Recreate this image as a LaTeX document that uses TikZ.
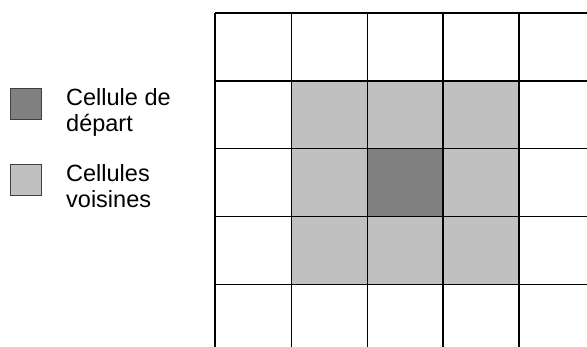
\documentclass[tikz,border=0pt]{standalone}
\usepackage{fontspec}
\setmainfont{Liberation Sans}
\definecolor{darkcell}{RGB}{128,128,128}
\definecolor{lightcell}{RGB}{192,192,192}
\begin{document}
\begin{tikzpicture}[x=1pt,y=-1pt,
  gridline/.style={black,line width=1.6pt},
  legendbox/.style={draw=black!75,line width=0.9pt},
  legendtext/.style={anchor=base west,inner sep=0pt,align=left,
     font=\fontsize{23.5}{25.7}\selectfont}]
\useasboundingbox (0,0) rectangle (587,347);
% shaded cells
\fill[lightcell] (291.5,81) rectangle (519,284.5);
\fill[darkcell] (367.5,148.5) rectangle (443,216.5);
% grid lines
\foreach \x in {215,291.5,367.5,443,519}
  \draw[gridline] (\x,13) -- (\x,347);
\foreach \y in {13,81,148.5,216.5,284.5}
  \draw[gridline] (215,\y) -- (587,\y);
% legend
\node[legendbox,fill=darkcell,minimum width=31pt,minimum height=31pt,inner sep=0pt,anchor=north west] (dk) at (10,88.5) {};
\node[legendbox,fill=lightcell,minimum width=31pt,minimum height=31pt,inner sep=0pt,anchor=north west] (lt) at (10,164) {};
\node[legendtext] (t1) at (66,131.7) {Cellule de\\départ};
\node[legendtext] (t2) at (66,207.4) {Cellules\\voisines};
\end{tikzpicture}
\end{document}
